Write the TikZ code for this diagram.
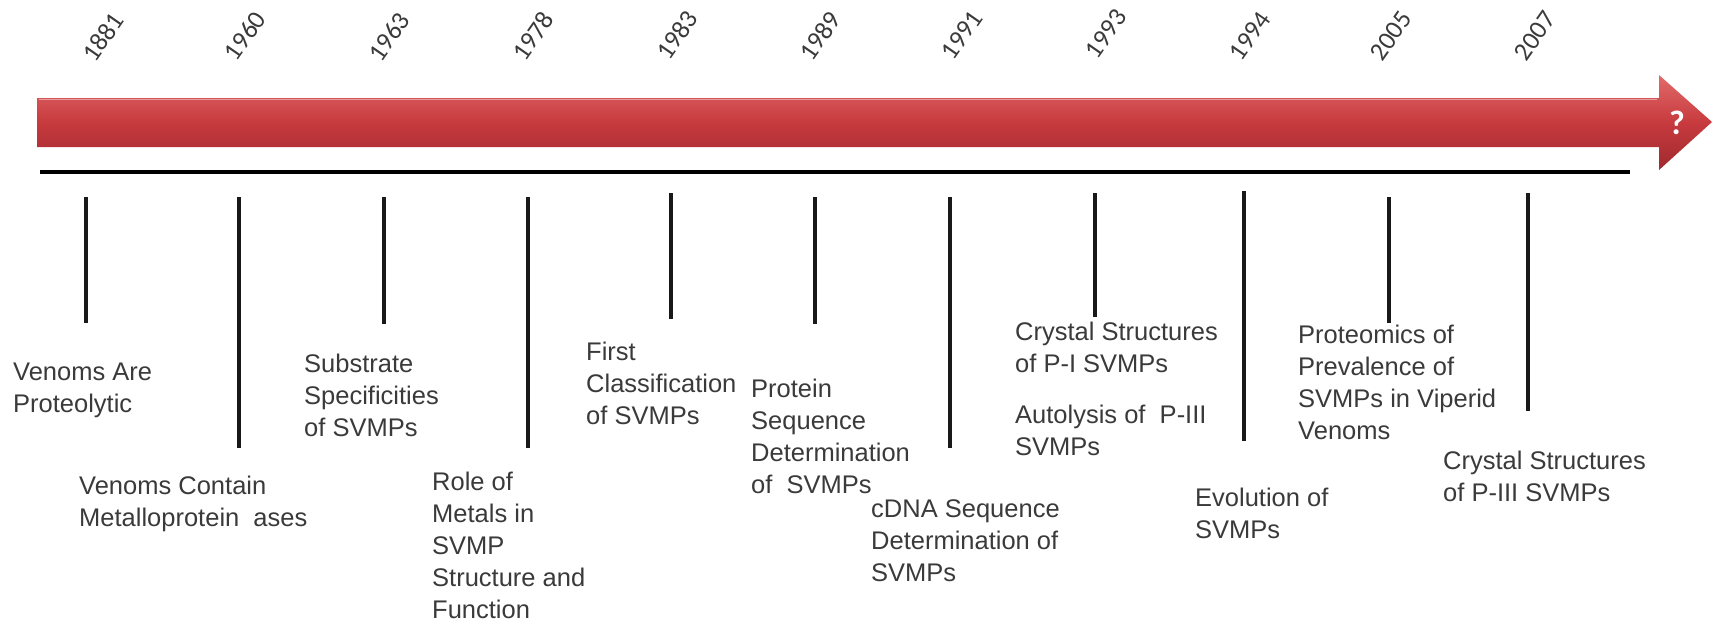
\documentclass[tikz,border=0pt]{standalone}
\usepackage{fontspec}
\setmainfont{Liberation Sans}
\newfontfamily\yearfont{Carlito}
\usetikzlibrary{calc}
\definecolor{txtgray}{HTML}{3A3A3A}
\definecolor{redtop}{HTML}{E26A6A}
\definecolor{redmid}{HTML}{C73A3E}
\definecolor{redbot}{HTML}{A02A2E}
\tikzset{
  event/.style={anchor=north west, inner sep=0pt, align=left, text=txtgray,
    font=\fontsize{25.5}{32}\selectfont},
  yearlbl/.style={rotate=55, inner sep=0pt, text=txtgray,
    font=\yearfont\fontsize{26}{26}\selectfont},
  tickline/.style={line width=4.5pt, black!90},
  baseline/.style={line width=4pt, black},
}
\begin{document}
\begin{tikzpicture}[x=1pt,y=-1pt]
\useasboundingbox (0,0) rectangle (1713,622);
% red arrow
\shade[top color=redtop, bottom color=redbot, middle color=redmid]
  (37,98) -- (1659,98) -- (1659,75) -- (1712,122) -- (1659,170) -- (1659,147) -- (37,147) -- cycle;
\draw[white!70!redtop, line width=1pt, opacity=0.6] (39,99.5) -- (1657,99.5);
\node[text=white, inner sep=0pt, font=\yearfont\bfseries\fontsize{34}{34}\selectfont] (q) at (1677,123) {?};
% base line
\coordinate (bl1) at (40,172);
\coordinate (bl2) at (1630,172);
\draw[baseline] (bl1) -- (bl2);
% ticks
\foreach \yr/\x/\ya/\yb in {1881/86/197/323, 1960/239/197/448, 1963/384/197/324,
  1978/528/197/448, 1983/671/193/319, 1989/815/197/324, 1991/950/197/448,
  1993/1095/193/317, 1994/1244/191/441, 2005/1389/197/323, 2007/1528/193/411}{
  \coordinate (t\yr a) at (\x,\ya);
  \coordinate (t\yr b) at (\x,\yb);
  \draw[tickline] (t\yr a) -- (t\yr b);
}
% years
\foreach \yr/\x/\y in {1881/103/37, 1960/245/36, 1963/389/37, 1978/533/36,
  1983/677/35, 1989/820/36, 1991/962/35, 1993/1106/34, 1994/1250/36,
  2005/1391/36, 2007/1535/36}{
  \node[yearlbl] (y\yr) at (\x,\y) {\yr};
}
% events
\node[event] (va) at (13,363) {Venoms Are\\Proteolytic};
\node[event] (vc) at (79,476) {Venoms Contain\\Metalloprotein\ \ ases};
\node[event] (ss) at (304,354) {Substrate\\Specificities\\of SVMPs};
\node[event] (rm) at (432,472) {Role of\\Metals in\\SVMP\\Structure and\\Function};
\node[event] (fc) at (586,342) {First\\Classification\\of SVMPs};
\node[event] (ps) at (751,379) {Protein\\Sequence\\Determination\\of\ \ SVMPs};
\node[event] (cd) at (871,499) {cDNA Sequence\\Determination of\\SVMPs};
\node[event] (cs1) at (1015,322) {Crystal Structures\\of P-I SVMPs};
\node[event] (au) at (1015,405) {Autolysis of\ \ P-III\\SVMPs};
\node[event] (ev) at (1195,488) {Evolution of\\SVMPs};
\node[event] (pr) at (1298,325) {Proteomics of\\Prevalence of\\SVMPs in Viperid\\Venoms};
\node[event] (cs3) at (1443,451) {Crystal Structures\\of P-III SVMPs};
\end{tikzpicture}
\end{document}
